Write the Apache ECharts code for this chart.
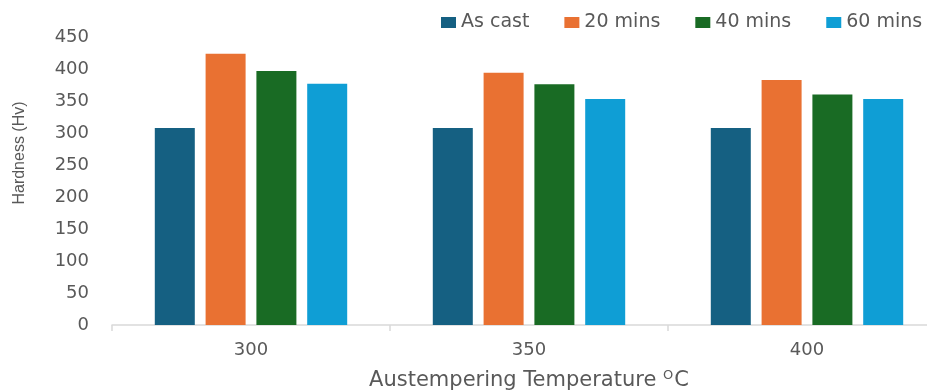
<!DOCTYPE html>
<html>
<head>
<meta charset="utf-8">
<script src="https://cdn.jsdelivr.net/npm/echarts@6/dist/echarts.min.js"></script>
<style>
  html, body { margin: 0; padding: 0; background: #ffffff; }
  #chart { width: 927px; height: 390px; }
</style>
</head>
<body>
<div id="chart"></div>
<script>
// Austempering temperatures (°C) on the category axis
const temperatures = ['300', '350', '400'];

// Vickers hardness per holding time
const asCast = [308, 308, 308];
const mins20 = [424, 394, 383];
const mins40 = [397, 376, 360];
const mins60 = [377, 353, 353];

const seriesNames = ['As cast', '20 mins', '40 mins', '60 mins'];
const seriesColors = ['#156082', '#E97132', '#196B24', '#0F9ED5'];
const seriesData = [asCast, mins20, mins40, mins60];

const textGray = '#595959';
const font = 'DejaVu Sans';

const chart = echarts.init(document.getElementById('chart'), null, { renderer: 'canvas' });

chart.setOption({
  backgroundColor: '#ffffff',
  animation: false,
  legend: {
    data: seriesNames,
    left: 441,
    top: 13,
    width: 560,
    padding: 0,
    icon: 'rect',
    itemWidth: 15,
    itemHeight: 11,
    itemGap: 35,
    textStyle: { color: textGray, fontFamily: font, fontSize: 19 }
  },
  // plot area runs slightly past the right edge of the canvas
  grid: { left: 112, top: 37, width: 834, height: 288, containLabel: false, outerBoundsMode: 'none' },
  xAxis: {
    type: 'category',
    data: temperatures,
    boundaryGap: true,
    axisLine: { show: true, lineStyle: { color: '#d9d9d9', width: 1.5 } },
    axisTick: { show: true, length: 6, lineStyle: { color: '#d9d9d9', width: 1.5 } },
    axisLabel: { color: textGray, fontFamily: font, fontSize: 18, margin: 16 },
    name: '{t|Austempering Temperature }{s|O}{t|C}',
    nameLocation: 'middle',
    nameGap: 44,
    nameTextStyle: {
      rich: {
        t: { color: textGray, fontFamily: font, fontSize: 21 },
        s: { color: textGray, fontFamily: font, fontSize: 13, padding: [0, 1, 10, 0] }
      }
    }
  },
  yAxis: {
    type: 'value',
    min: 0,
    max: 450,
    interval: 50,
    splitLine: { show: false },
    axisLine: { show: false },
    axisTick: { show: false },
    axisLabel: { color: textGray, fontFamily: font, fontSize: 18, margin: 23 },
    name: 'Hardness (Hv)',
    nameLocation: 'middle',
    nameGap: 84,
    nameRotate: 90,
    nameTextStyle: { color: textGray, fontFamily: 'Liberation Sans', fontSize: 16, padding: [0, 0, 0, 56] }
  },
  series: seriesNames.map((name, i) => ({
    name: name,
    type: 'bar',
    data: seriesData[i],
    barWidth: 40,
    barGap: '27%',
    itemStyle: { color: seriesColors[i] }
  }))
});
</script>
</body>
</html>
